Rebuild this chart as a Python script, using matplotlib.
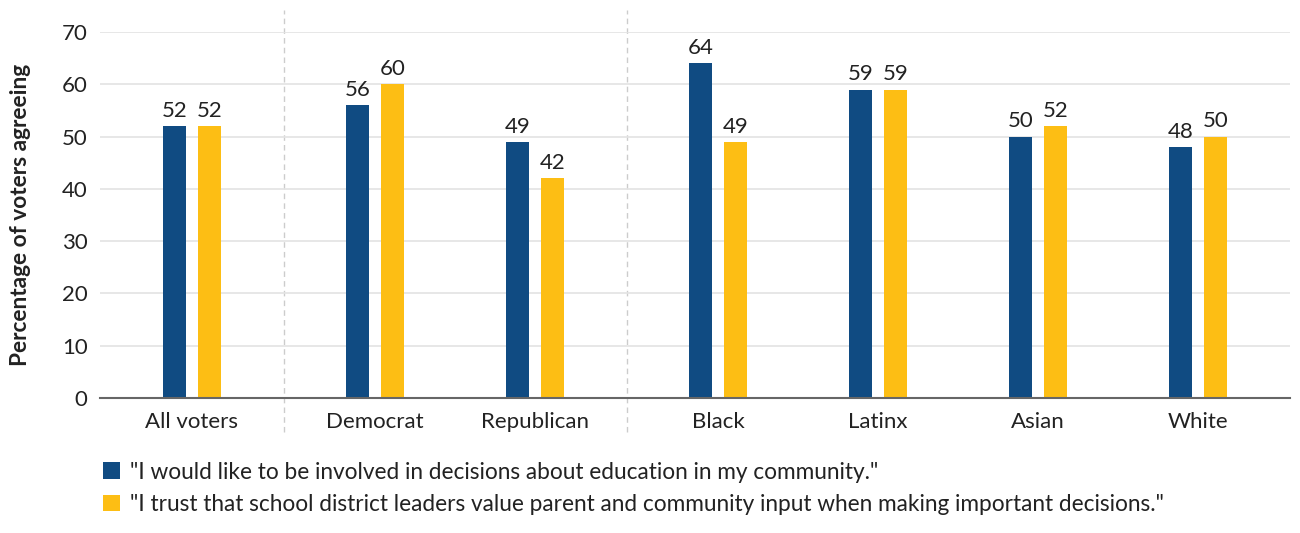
import matplotlib
matplotlib.use("Agg")
import matplotlib.pyplot as plt
from matplotlib.patches import Patch
import numpy as np

# data
categories = ["All voters", "Democrat", "Republican", "Black", "Latinx", "Asian", "White"]
involved = [52, 56, 49, 64, 59, 50, 48]
trust = [52, 60, 42, 49, 59, 52, 50]
series_labels = [
    '"I would like to be involved in decisions about education in my community."',
    '"I trust that school district leaders value parent and community input when making important decisions."',
]
groups = [1, 2, 4]  # all voters | party | race

BLUE = "#104B82"
YELLOW = "#FDBE14"
TEXT = "#222222"

plt.rcParams["font.family"] = ["Lato", "DejaVu Sans"]

# x positions: unit spacing inside a group, a bit wider between groups
gap = 1.144
x = []
pos = 0.0
for gi, n in enumerate(groups):
    if gi > 0:
        pos += gap - 1.0
    for _ in range(n):
        x.append(pos)
        pos += 1.0
x = np.array(x)

fig = plt.figure(figsize=(13, 5.33), dpi=100)
ax = fig.add_axes([100 / 1300, 1 - 398 / 533, 1190 / 1300, 366 / 533])

w = 0.144
off = 0.11
b1 = ax.bar(x - off, involved, w, color=BLUE, zorder=3)
b2 = ax.bar(x + off, trust, w, color=YELLOW, zorder=3)

for bars, vals in [(b1, involved), (b2, trust)]:
    for r, v in zip(bars, vals):
        ax.text(r.get_x() + r.get_width() / 2, v + 1.0, str(v),
                ha="center", va="bottom", fontsize=16, color=TEXT)

ax.set_xlim(-0.575, x[-1] + 0.575)
ax.set_ylim(0, 70)
ax.set_yticks(range(0, 71, 10))
ax.set_xticks(x)
ax.set_xticklabels(categories)
ax.tick_params(axis="both", length=0, labelsize=16, colors=TEXT)
ax.tick_params(axis="x", pad=10)
ax.tick_params(axis="y", pad=9)
ax.grid(axis="y", color="#e3e3e3", linewidth=1.2, zorder=0)
for s in ["top", "right", "left"]:
    ax.spines[s].set_visible(False)
ax.spines["bottom"].set_color("#666666")
ax.spines["bottom"].set_linewidth(1.5)
ax.spines["bottom"].set_zorder(4)

# dashed separators between groups
idx = np.cumsum(groups)[:-1]
for i in idx:
    xs = (x[i - 1] + x[i]) / 2
    ax.plot([xs, xs], [-6.5, 74.2], color="#cccccc", linestyle=(0, (4, 3)),
            linewidth=1, clip_on=False, zorder=1)

ax.set_ylabel("Percentage of voters agreeing", fontsize=16.3, fontweight="bold",
              color=TEXT, labelpad=22)

handles = [Patch(facecolor=BLUE), Patch(facecolor=YELLOW)]
fig.legend(handles, series_labels, loc="upper left",
           bbox_to_anchor=(98 / 1300, 1 - 457 / 533), frameon=False,
           fontsize=16.3, handlelength=0.75, handleheight=0.75,
           handletextpad=0.45, labelspacing=0.5, labelcolor=TEXT,
           borderaxespad=0, borderpad=0.2)

fig.savefig("out.png", dpi=100)
